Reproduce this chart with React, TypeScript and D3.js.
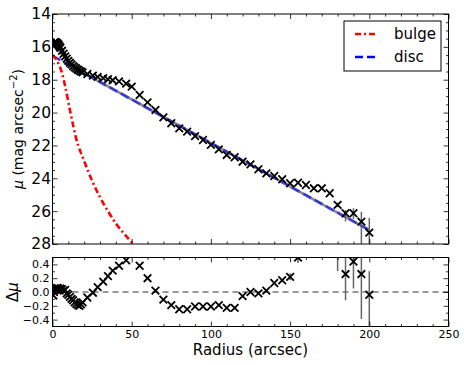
import React, { useEffect, useRef } from 'react';
import * as d3 from 'd3';

// radius of each isophote (arcsec)
const radius = [
  0.5, 1, 1.5, 2, 2.5, 3, 3.5, 4, 4.5, 5, 6, 7, 8, 9, 10, 11, 12, 13, 14, 15, 16, 17, 18,
  19, 22, 25.5, 28.5, 32, 35, 38, 42, 46.5, 50,
  55, 60, 65, 70, 75, 80, 85, 90, 95, 100, 105, 110, 115, 120, 125, 130, 135, 140, 145, 150,
  155, 160, 165, 170, 175, 180, 185, 190, 195, 200,
];
// surface brightness (mag arcsec^-2)
const mu = [
  15.85, 15.75, 15.72, 15.72, 15.74, 15.78, 15.84, 15.9, 15.98, 16.06, 16.24, 16.42, 16.58, 16.72, 16.85, 16.97, 17.07, 17.17, 17.25, 17.32, 17.39, 17.45, 17.5,
  17.55, 17.65, 17.75, 17.83, 17.9, 17.97, 18.03, 18.1, 18.24, 18.42,
  18.93, 19.38, 19.84, 20.29, 20.65, 20.96, 21.16, 21.43, 21.67, 21.97, 22.24, 22.58, 22.72, 22.99, 23.15, 23.45, 23.7, 23.86, 24.06, 24.3,
  24.27, 24.41, 24.61, 24.61, 24.91, 25.62, 26.13, 26.13, 26.64, 27.31,
];
// residuals (model - data)
const residual = [
  -0.05, 0.0, 0.03, 0.05, 0.04, 0.06, 0.05, 0.03, 0.02, 0.05, 0.04, 0.02, 0.03, -0.02, -0.04, -0.07, -0.1, -0.12, -0.15, -0.17, -0.19, -0.2, -0.18,
  -0.15, -0.08, -0.01, 0.07, 0.15, 0.23, 0.31, 0.38, 0.46, 0.62,
  0.38, 0.2, 0.02, -0.11, -0.19, -0.25, -0.25, -0.21, -0.21, -0.21, -0.19, -0.23, -0.23, -0.06, 0.0, -0.02, 0.02, 0.13, 0.17, 0.22,
  0.5, 0.72, 0.78, 0.8, 0.7, 0.6, 0.26, 0.44, 0.26, -0.04,
];

// error bars, only where they show
const errR = [150, 155, 180, 185, 190, 195, 200];
const muErrBright = [0.05, 0.08, 0.15, 0.2, 0.3, 0.6, 0.9];
const muErrFaint = [0.05, 0.08, 0.15, 0.5, 0.35, 2, 2];
const resErrUp = [0.05, 0.08, 0.3, 0.4, 0.4, 0.9, 0.34];
const resErrDown = [0.05, 0.08, 0.3, 0.38, 0.39, 0.65, 0.9];

// model components
const bulgeR = [0, 2, 4, 6, 8, 11, 15, 20, 25, 30, 35, 40, 45, 50, 53];
const bulgeMu = [16.5, 16.72, 17.07, 17.6, 18.4, 19.85, 21.6, 22.95, 24.15, 25.15, 26.0, 26.75, 27.35, 27.9, 28.2];
const discR = [0, 200];
const discMu = [16.55, 27.15];
const totalR = [0, 2, 4, 6, 8, 10, 13, 16, 20, 25, 30, 200];
const totalMu = [15.78, 15.95, 16.2, 16.45, 16.7, 16.95, 17.15, 17.38, 17.6, 17.88, 18.14, 27.15];

const legendItems = ['bulge', 'disc'];

const FONT = 'DejaVu Sans';

const App = () => {
  const svgRef = useRef<SVGSVGElement>(null);

  useEffect(() => {
    const svg = d3.select(svgRef.current);
    svg.selectAll('*').remove();

    const left = 52.5, right = 448.5;
    const top1 = 14, bot1 = 244;
    const top2 = 257.5, bot2 = 326.5;

    const x = d3.scaleLinear().domain([0, 250]).range([left, right]);
    const yTop = d3.scaleLinear().domain([14, 28]).range([top1, bot1]);
    const yBot = d3.scaleLinear().domain([-0.5, 0.5]).range([bot2, top2]);

    const defs = svg.append('defs');
    defs.append('clipPath').attr('id', 'clipTop').append('rect')
      .attr('x', left).attr('y', top1).attr('width', right - left).attr('height', bot1 - top1);
    defs.append('clipPath').attr('id', 'clipBot').append('rect')
      .attr('x', left).attr('y', top2).attr('width', right - left).attr('height', bot2 - top2);

    const xMajor = d3.range(0, 251, 50);
    const xMinor = d3.range(0, 251, 10).filter(v => v % 50 !== 0);
    const yTopMajor = d3.range(14, 28.01, 2);
    const yTopMinor = d3.range(14, 28.01, 0.5).filter(v => v % 2 !== 0);
    const yBotMajor = [-0.4, -0.2, 0, 0.2, 0.4];
    const yBotMinor = [-0.3, -0.1, 0.1, 0.3];

    const styleAxis = (g, size) => {
      g.select('.domain').remove();
      g.selectAll('line').attr('stroke', '#000').attr('stroke-width', 0.8);
      g.attr('font-family', FONT).attr('font-size', size);
      g.selectAll('text').attr('fill', '#000');
    };

    const drawTicks = (yScale, yMaj, yMin, top, bottom, xLabels, yFmt, ySize) => {
      const none = () => '';
      // left
      let g = svg.append('g').attr('transform', `translate(${left},0)`)
        .call(d3.axisLeft(yScale).tickValues(yMaj).tickSize(-5).tickPadding(ySize > 12 ? 1.5 : 3).tickFormat(yFmt));
      styleAxis(g, ySize);
      g = svg.append('g').attr('transform', `translate(${left},0)`)
        .call(d3.axisLeft(yScale).tickValues(yMin).tickSize(-2.5).tickFormat(none));
      styleAxis(g, ySize);
      // right
      g = svg.append('g').attr('transform', `translate(${right},0)`)
        .call(d3.axisRight(yScale).tickValues(yMaj).tickSize(-5).tickFormat(none));
      styleAxis(g, ySize);
      g = svg.append('g').attr('transform', `translate(${right},0)`)
        .call(d3.axisRight(yScale).tickValues(yMin).tickSize(-2.5).tickFormat(none));
      styleAxis(g, ySize);
      // top
      g = svg.append('g').attr('transform', `translate(0,${top})`)
        .call(d3.axisTop(x).tickValues(xMajor).tickSize(-5).tickFormat(none));
      styleAxis(g, 10);
      g = svg.append('g').attr('transform', `translate(0,${top})`)
        .call(d3.axisTop(x).tickValues(xMinor).tickSize(-2.5).tickFormat(none));
      styleAxis(g, 10);
      // bottom
      g = svg.append('g').attr('transform', `translate(0,${bottom})`)
        .call(d3.axisBottom(x).tickValues(xMajor).tickSize(-5).tickPadding(4)
          .tickFormat(xLabels ? d3.format('d') : none));
      styleAxis(g, 11);
      g = svg.append('g').attr('transform', `translate(0,${bottom})`)
        .call(d3.axisBottom(x).tickValues(xMinor).tickSize(-2.5).tickFormat(none));
      styleAxis(g, 11);
      // frame
      svg.append('rect').attr('x', left).attr('y', top).attr('width', right - left)
        .attr('height', bottom - top).attr('fill', 'none').attr('stroke', '#000').attr('stroke-width', 1);
    };

    const xMark = 'M-3.8,-3.8L3.8,3.8M-3.8,3.8L3.8,-3.8';

    // ---------- top panel ----------
    const pTop = svg.append('g').attr('clip-path', 'url(#clipTop)');
    const lineTop = d3.line<number>().curve(d3.curveMonotoneX);

    pTop.append('path')
      .attr('d', lineTop(totalR.map((r, i) => [x(r), yTop(totalMu[i])]) as any))
      .attr('fill', 'none').attr('stroke', '#8c8c8c').attr('stroke-width', 2.6);
    pTop.append('path')
      .attr('d', lineTop(discR.map((r, i) => [x(r), yTop(discMu[i])]) as any))
      .attr('fill', 'none').attr('stroke', '#3a3ad8').attr('stroke-width', 2.6)
      .attr('stroke-dasharray', '9,4');
    pTop.append('path')
      .attr('d', lineTop(bulgeR.map((r, i) => [x(r), yTop(bulgeMu[i])]) as any))
      .attr('fill', 'none').attr('stroke', '#ff0000').attr('stroke-width', 2.6)
      .attr('stroke-dasharray', '6,3,2,3');

    pTop.selectAll('.ebar').data(errR).enter().append('line')
      .attr('x1', d => x(d)).attr('x2', d => x(d))
      .attr('y1', (d, i) => yTop(mu[radius.indexOf(d)] - muErrBright[i]))
      .attr('y2', (d, i) => yTop(mu[radius.indexOf(d)] + muErrFaint[i]))
      .attr('stroke', '#666').attr('stroke-width', 1.5);

    pTop.selectAll('.pt').data(radius).enter().append('path')
      .attr('d', xMark)
      .attr('transform', (d, i) => `translate(${x(d)},${yTop(mu[i])})`)
      .attr('fill', 'none').attr('stroke', '#000').attr('stroke-width', 1.8);

    drawTicks(yTop, yTopMajor, yTopMinor, top1, bot1, false, d3.format('d'), 15.5);

    // legend
    const lg = svg.append('g');
    lg.append('rect').attr('x', 344).attr('y', 21).attr('width', 97).attr('height', 50)
      .attr('fill', '#fff').attr('stroke', '#000').attr('stroke-width', 1);
    const legendStyle = [
      { color: '#ff0000', dash: '6,3,2,3' },
      { color: '#0000ff', dash: '8,4' },
    ];
    legendItems.forEach((name, i) => {
      const yy = 34 + i * 23;
      lg.append('line').attr('x1', 355).attr('x2', 378).attr('y1', yy).attr('y2', yy)
        .attr('stroke', legendStyle[i].color).attr('stroke-width', 2.6)
        .attr('stroke-dasharray', legendStyle[i].dash);
      lg.append('text').attr('x', 394).attr('y', yy + 5).text(name)
        .attr('font-family', FONT).attr('font-size', 15).attr('fill', '#000');
    });

    // y label
    const yl = svg.append('text')
      .attr('transform', `translate(23,${(top1 + bot1) / 2}) rotate(-90)`)
      .attr('text-anchor', 'middle').attr('font-family', FONT).attr('font-size', 14).attr('fill', '#000');
    yl.append('tspan').text('μ').attr('font-style', 'italic');
    yl.append('tspan').text(' (mag arcsec');
    yl.append('tspan').text('−2').attr('font-size', 10).attr('dy', -6);
    yl.append('tspan').text(')').attr('dy', 6);

    // ---------- bottom panel ----------
    const pBot = svg.append('g').attr('clip-path', 'url(#clipBot)');
    pBot.append('line').attr('x1', left).attr('x2', right)
      .attr('y1', yBot(0)).attr('y2', yBot(0))
      .attr('stroke', '#333').attr('stroke-width', 1).attr('stroke-dasharray', '6,4');

    pBot.selectAll('.ebar').data(errR).enter().append('line')
      .attr('x1', d => x(d)).attr('x2', d => x(d))
      .attr('y1', (d, i) => yBot(residual[radius.indexOf(d)] + resErrUp[i]))
      .attr('y2', (d, i) => yBot(residual[radius.indexOf(d)] - resErrDown[i]))
      .attr('stroke', '#666').attr('stroke-width', 1.5);

    pBot.selectAll('.pt').data(radius).enter().append('path')
      .attr('d', xMark)
      .attr('transform', (d, i) => `translate(${x(d)},${yBot(residual[i])})`)
      .attr('fill', 'none').attr('stroke', '#000').attr('stroke-width', 1.8);

    drawTicks(yBot, yBotMajor, yBotMinor, top2, bot2, true, d3.format('.1f'), 11);

    const dl = svg.append('text')
      .attr('transform', `translate(18,${(top2 + bot2) / 2}) rotate(-90)`)
      .attr('text-anchor', 'middle').attr('font-family', FONT).attr('font-size', 15)
      .attr('fill', '#000');
    dl.append('tspan').text('Δ');
    dl.append('tspan').text('μ').attr('font-style', 'italic');

    svg.append('text').attr('x', (left + right) / 2).attr('y', 355)
      .attr('text-anchor', 'middle').attr('font-family', FONT).attr('font-size', 15)
      .attr('fill', '#000').text('Radius (arcsec)');
  }, []);

  return (
    <svg ref={svgRef} width={464} height={365}
      style={{ position: 'absolute', left: 0, top: 0, background: '#fff' }} />
  );
};

export default App;
